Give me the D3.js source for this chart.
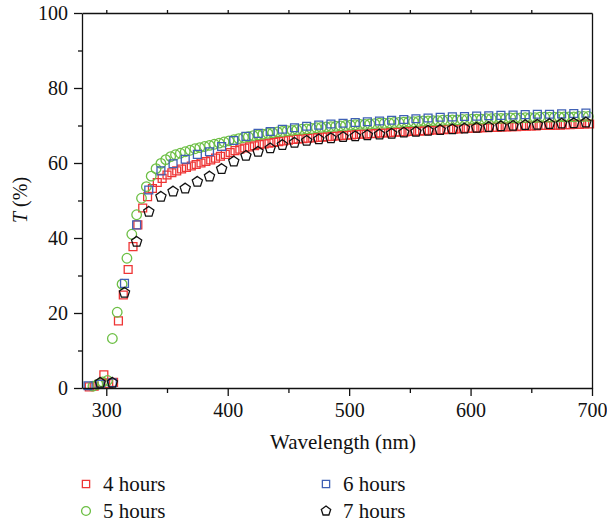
<!DOCTYPE html>
<html>
<head>
<meta charset="utf-8">
<script src="https://cdn.jsdelivr.net/npm/d3@7/dist/d3.min.js"></script>
<style>
  html, body { margin: 0; padding: 0; background: #fff; }
  svg { display: block; }
</style>
</head>
<body>
<svg id="chart" width="607" height="525"></svg>
<script>
// ---------- data ----------
const seriesNames = ["4 hours", "5 hours", "6 hours", "7 hours"];

const wl4h = [286,290,294,298,302,306,310,314,318,322,326,330,334,338,342,346,350,354,358,362,366,370,374,378,382,386,390,394,398,402,406,410,414,418,422,426,430,434,438,442,446,450,454,458,462,466,470,474,478,482,486,490,494,498,502,506,510,514,518,522,526,530,534,538,542,546,550,554,558,562,566,570,574,578,582,586,590,594,598,602,606,610,614,618,622,626,630,634,638,642,646,650,654,658,662,666,670,674,678,682,686,690,694,698];
const t4h  = [0.3,0.5,1.0,3.5,1.2,1.5,17.9,24.8,31.6,37.7,43.5,48.0,51.0,53.2,54.8,55.9,56.8,57.4,57.9,58.4,58.8,59.2,59.6,60.0,60.4,60.8,61.3,61.8,62.3,62.8,63.3,63.7,64.0,64.3,64.6,64.9,65.1,65.3,65.5,65.7,65.9,66.1,66.3,66.4,66.5,66.6,66.7,66.8,66.9,67.0,67.1,67.2,67.3,67.4,67.5,67.6,67.7,67.7,67.8,67.9,68.0,68.0,68.1,68.2,68.3,68.3,68.4,68.5,68.5,68.6,68.7,68.8,68.8,68.9,69.0,69.0,69.1,69.2,69.2,69.3,69.3,69.4,69.4,69.5,69.5,69.6,69.6,69.7,69.7,69.8,69.8,69.9,69.9,70.0,70.0,70.0,70.1,70.1,70.2,70.2,70.3,70.3,70.4,70.4];

const wl5h = [289,293,297,301,305,309,313,317,321,325,329,333,337,341,345,349,353,357,361,365,369,373,377,381,385,389,393,397,401,405,409,413,417,421,425,429,433,437,441,445,449,453,457,461,465,469,473,477,481,485,489,493,497,501,505,509,513,517,521,525,529,533,537,541,545,549,553,557,561,565,569,573,577,581,585,589,593,597,601,605,609,613,617,621,625,629,633,637,641,645,649,653,657,661,665,669,673,677,681,685,689,693,697];
const t5h  = [0.5,1.0,1.6,2.0,13.2,20.2,27.7,34.6,41.0,46.2,50.6,53.7,56.5,58.5,59.9,60.9,61.7,62.2,62.6,63.0,63.4,63.8,64.1,64.4,64.7,65.0,65.3,65.6,65.9,66.2,66.5,66.8,67.0,67.3,67.5,67.7,67.9,68.1,68.3,68.4,68.6,68.7,68.9,69.0,69.1,69.2,69.4,69.5,69.6,69.7,69.8,69.9,70.0,70.1,70.2,70.3,70.3,70.4,70.5,70.6,70.6,70.7,70.8,70.8,70.9,71.0,71.0,71.1,71.2,71.2,71.3,71.3,71.4,71.4,71.5,71.5,71.6,71.6,71.7,71.7,71.7,71.8,71.8,71.9,71.9,71.9,72.0,72.0,72.0,72.1,72.1,72.1,72.2,72.2,72.2,72.2,72.3,72.3,72.3,72.3,72.4,72.4,72.4];

const wl6h = [285,295,305,315,325,335,345,355,365,375,385,395,405,415,425,435,445,455,465,475,485,495,505,515,525,535,545,555,565,575,585,595,605,615,625,635,645,655,665,675,685,695];
const t6h  = [0.6,1.0,1.4,27.9,43.5,52.8,57.9,59.8,61.0,62.3,63.0,64.4,66.0,67.1,67.9,68.4,69.0,69.4,69.8,70.1,70.4,70.6,70.8,71.0,71.2,71.4,71.6,71.8,72.0,72.2,72.3,72.4,72.5,72.6,72.7,72.8,72.9,73.0,73.0,73.1,73.2,73.3];

const wl7h = [295,305,315,325,335,345,355,365,375,385,395,405,415,425,435,445,455,465,475,485,495,505,515,525,535,545,555,565,575,585,595,605,615,625,635,645,655,665,675,685,695];
const t7h  = [1.4,1.4,25.4,39.0,47.0,51.0,52.4,53.2,55.0,56.4,58.4,60.4,61.9,63.0,63.9,64.8,65.4,65.9,66.3,66.6,66.9,67.1,67.4,67.6,67.8,68.1,68.3,68.6,68.8,69.0,69.2,69.4,69.6,69.8,69.9,70.1,70.2,70.4,70.5,70.6,70.8];

const xMajorTicks = [300, 400, 500, 600, 700];
const xMinorTicks = [350, 450, 550, 650];
const xTopTicks   = [300, 350, 400, 450, 500, 550, 600, 650];
const yMajorTicks = [0, 20, 40, 60, 80, 100];
const yMinorTicks = [10, 30, 50, 70, 90];

// ---------- drawing ----------
const FONT = '"Liberation Serif", "Times New Roman", Times, "DejaVu Serif", serif';
const svg = d3.select("#chart");
const x = d3.scaleLinear().domain([280, 700]).range([82, 592]);
const y = d3.scaleLinear().domain([0, 100]).range([388, 13]);

const colors = ["#ee3535", "#6cbf44", "#3f60b5", "#111111"];

const pentagon = {
  draw(ctx, size) {
    const r = Math.sqrt(size / 2.378);
    for (let i = 0; i < 5; i++) {
      const a = -Math.PI / 2 + i * 2 * Math.PI / 5;
      const px = r * Math.cos(a), py = r * Math.sin(a);
      if (i === 0) ctx.moveTo(px, py); else ctx.lineTo(px, py);
    }
    ctx.closePath();
  }
};
const symbols = [d3.symbolSquare, d3.symbolCircle, d3.symbolSquare, pentagon];
const sizes = [62, 72, 62, 68];

const series = [
  {wl: wl4h, t: t4h},
  {wl: wl5h, t: t5h},
  {wl: wl6h, t: t6h},
  {wl: wl7h, t: t7h}
];

const plot = svg.append("g");
series.forEach((s, i) => {
  const pts = s.wl.map((w, k) => ({w, v: s.t[k]}));
  plot.append("g").selectAll("path").data(pts).join("path")
    .attr("d", d3.symbol().type(symbols[i]).size(sizes[i]))
    .attr("transform", d => `translate(${x(d.w)},${y(d.v)})`)
    .attr("fill", "none")
    .attr("stroke", colors[i])
    .attr("stroke-width", 1.3);
});

const axisColor = "#111";
const fontSize = 20;
const labelSize = 21;

const xAxis = svg.append("g").attr("transform", `translate(0,${y(0)})`)
  .call(d3.axisBottom(x).tickValues(xMajorTicks).tickSize(8).tickSizeOuter(0).tickFormat(d3.format("d")));
svg.append("g").attr("transform", `translate(0,${y(0)})`)
  .call(d3.axisBottom(x).tickValues(xMinorTicks).tickSize(5).tickSizeOuter(0).tickFormat(""))
  .select(".domain").remove();

const yAxis = svg.append("g").attr("transform", `translate(${x(280)},0)`)
  .call(d3.axisLeft(y).tickValues(yMajorTicks).tickSize(8).tickSizeOuter(0).tickFormat(d3.format("d")));
svg.append("g").attr("transform", `translate(${x(280)},0)`)
  .call(d3.axisLeft(y).tickValues(yMinorTicks).tickSize(4).tickSizeOuter(0).tickFormat(""))
  .select(".domain").remove();

svg.append("g").attr("transform", `translate(0,${y(100)})`)
  .call(d3.axisTop(x).tickValues(xTopTicks).tickSize(3).tickSizeOuter(0).tickFormat(""));
svg.append("g").attr("transform", `translate(${x(700)},0)`)
  .call(d3.axisRight(y).tickValues([]).tickSizeOuter(0));

svg.selectAll(".domain, .tick line").attr("stroke", axisColor).attr("stroke-width", 1.3);
xAxis.selectAll(".tick text").style("font-family", FONT).style("font-size", fontSize + "px").attr("fill", "#111").attr("dy", "1.05em").attr("y", 8);
yAxis.selectAll(".tick text").style("font-family", FONT).style("font-size", fontSize + "px").attr("fill", "#111").attr("x", -14).attr("dy", "0.33em");

svg.append("text")
  .attr("x", 343).attr("y", 449)
  .attr("text-anchor", "middle")
  .style("font-family", FONT).style("font-size", labelSize + "px").attr("fill", "#111")
  .text("Wavelength (nm)");

const yl = svg.append("text")
  .attr("transform", "translate(27,200) rotate(-90)")
  .attr("text-anchor", "middle")
  .style("font-family", FONT).style("font-size", fontSize + "px").attr("fill", "#111");
yl.append("tspan").attr("font-style", "italic").text("T");
yl.append("tspan").text(" (%)");

const legendPos = [[86, 484], [86, 511], [326, 484], [326, 511]];
seriesNames.forEach((name, i) => {
  const [lx, ly] = legendPos[i];
  svg.append("path")
    .attr("d", d3.symbol().type(symbols[i]).size(sizes[i] * 0.85)())
    .attr("transform", `translate(${lx},${ly})`)
    .attr("fill", "none").attr("stroke", colors[i]).attr("stroke-width", 1.3);
  svg.append("text")
    .attr("x", lx + 17).attr("y", ly + 7)
    .style("font-family", FONT).style("font-size", labelSize + "px").attr("fill", "#111")
    .text(name);
});
</script>
</body>
</html>
